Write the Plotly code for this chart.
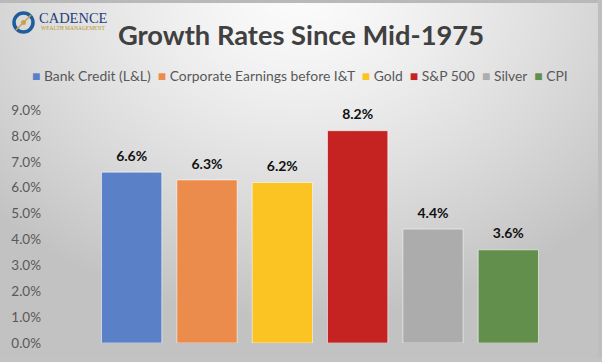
import plotly.graph_objects as go
import numpy as np
import base64, zlib, struct

series_names = ["Bank Credit (L&L)", "Corporate Earnings before I&T", "Gold", "S&P 500", "Silver", "CPI"]
growth_rates = [6.6, 6.3, 6.2, 8.2, 4.4, 3.6]
bar_colors = ["#5a80c8", "#ec8c4c", "#fbc423", "#c52222", "#acacac", "#638f4c"]
y_ticks = [0, 1, 2, 3, 4, 5, 6, 7, 8, 9]
y_tick_labels = [f"{v:.1f}%" for v in y_ticks]

W, H = 602, 362
ML, MR, MT, MB = 94, 56, 110, 19
PW, PH = W - ML - MR, H - MT - MB

# background gradient image (png)
def make_png(arr):
    h, w, _ = arr.shape
    raw = b"".join(b"\x00" + arr[i].tobytes() for i in range(h))
    def chunk(t, d):
        c = struct.pack(">I", len(d)) + t + d
        return c + struct.pack(">I", zlib.crc32(t + d) & 0xffffffff)
    return (b"\x89PNG\r\n\x1a\n" + chunk(b"IHDR", struct.pack(">IIBBBBB", w, h, 8, 2, 0, 0, 0))
            + chunk(b"IDAT", zlib.compress(raw, 9)) + chunk(b"IEND", b""))

yy, xx = np.mgrid[0:H, 0:W].astype(float)
d = np.sqrt(((xx - 300) / 420) ** 2 + ((yy + 10) / 330) ** 2)
v = 252 - 58 * np.clip(d, 0, 1) ** 1.3
v[:3, :] = 185
v[:, 598:] = 190
v[358:, :] = 195
img = np.repeat(np.clip(v, 0, 255).astype(np.uint8)[:, :, None], 3, axis=2)
bg_uri = "data:image/png;base64," + base64.b64encode(make_png(img)).decode()

fig = go.Figure()
for name, val, col in zip(series_names, growth_rates, bar_colors):
    fig.add_trace(go.Bar(
        x=[name], y=[val], name=name,
        marker=dict(color=col, line=dict(color="rgba(255,255,255,0.55)", width=1)),
        cliponaxis=False, width=0.8,
    ))
# data labels (transparent marker gives the offset above the bar)
fig.add_trace(go.Scatter(
    x=series_names, y=growth_rates, mode="markers+text",
    marker=dict(size=11, color="rgba(0,0,0,0)"),
    text=[f"{v:.1f}%" for v in growth_rates], textposition="top center",
    textfont=dict(family="Lato", size=14, color="#111111", weight="bold"),
    cliponaxis=False, showlegend=False, hoverinfo="skip",
))

# legend as one line of text with colored markers
legend_parts = [f"<span style='color:{c}'>■</span> {n}" for n, c in zip(series_names, bar_colors)]
legend_text = "  ".join(legend_parts)

fig.update_layout(
    width=W, height=H,
    margin=dict(l=ML, r=MR, t=MT, b=MB, autoexpand=False),
    paper_bgcolor="#d0d0d0", plot_bgcolor="rgba(0,0,0,0)",
    barmode="relative",
    showlegend=False,
    title=dict(text="<b>Growth Rates Since Mid-1975</b>", x=0.5, xref="container",
               y=1 - 35 / H, yref="container", yanchor="middle", xanchor="center",
               font=dict(family="Lato", size=27.3, color="#404040")),
    xaxis=dict(showticklabels=False, showgrid=False, zeroline=False, showline=False,
               range=[-0.5, 5.5], fixedrange=True),
    yaxis=dict(range=[0, 9], tickvals=y_ticks, ticktext=y_tick_labels, showgrid=False,
               zeroline=False, showline=False,
               tickfont=dict(family="Lato", size=13.5, color="#595959"), ticklabelstandoff=52),
    images=[dict(source=bg_uri, xref="paper", yref="paper",
                 x=-ML / PW, y=1 + MT / PH, sizex=W / PW, sizey=H / PH,
                 xanchor="left", yanchor="top", layer="below", sizing="stretch")],
)

def px(x):
    return (x - ML) / PW

def py(y):
    return (H - MB - y) / PH

fig.add_annotation(text=legend_text, xref="paper", yref="paper", x=px(300), y=py(76),
                   xanchor="center", yanchor="middle", showarrow=False,
                   font=dict(family="Lato", size=13.9, color="#595959"))

# logo
fig.add_shape(type="circle", xref="paper", yref="paper",
              x0=px(14), x1=px(33), y0=py(32), y1=py(13), line=dict(color="#1f5e9c", width=3.5))
fig.add_shape(type="line", xref="paper", yref="paper",
              x0=px(16), x1=px(31), y0=py(30), y1=py(15), line=dict(color="#c9a24a", width=1.5))
fig.add_shape(type="circle", xref="paper", yref="paper", fillcolor="#c9a24a",
              x0=px(21), x1=px(26), y0=py(25), y1=py(20), line=dict(width=0))
fig.add_annotation(text="CADENCE", xref="paper", yref="paper", x=px(37), y=py(18),
                   xanchor="left", yanchor="middle", showarrow=False,
                   font=dict(family="Liberation Serif", size=14.5, color="#1f3f7a"))
fig.add_annotation(text="WEALTH MANAGEMENT", xref="paper", yref="paper", x=px(39), y=py(28),
                   xanchor="left", yanchor="middle", showarrow=False,
                   font=dict(family="Liberation Serif", size=5.5, color="#b8962e"))

fig.write_html("out.html", config={"displayModeBar": False},
               post_script="document.body.style.margin='0';")
